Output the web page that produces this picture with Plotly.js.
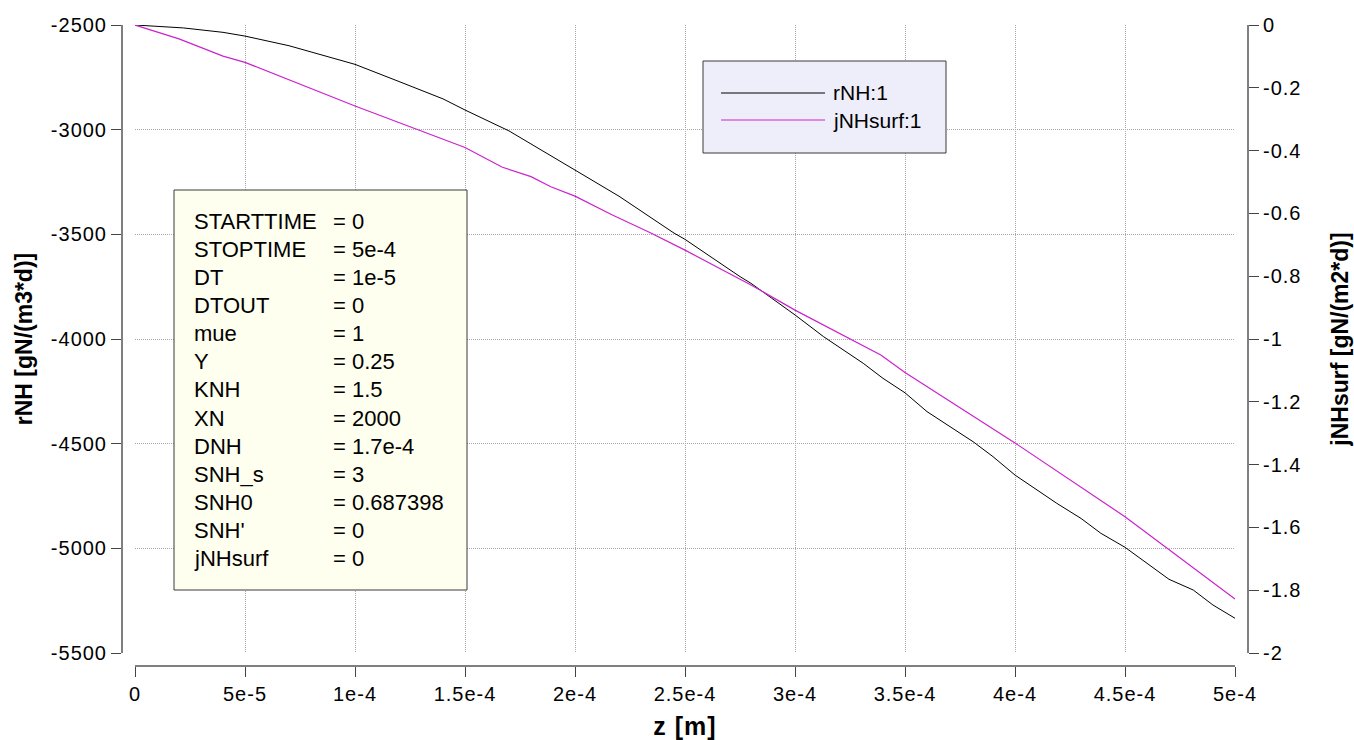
<!DOCTYPE html>
<html>
<head>
<meta charset="utf-8">
<script src="https://cdn.plot.ly/plotly-3.0.1.min.js"></script>
<style>
  html, body { margin: 0; padding: 0; background: #fff; }
  #chart { width: 1354px; height: 740px; }
  #chart .xtick text, #chart .ytick text, #chart .y2tick text, #chart .xtitle { letter-spacing: 1px; }
</style>
</head>
<body>
<div id="chart"></div>
<script>
// Depth profile of the ammonium reaction rate (left axis) and surface flux (right axis)
const zRNH = [0, 2.2e-5, 4e-5, 5e-5, 7e-5, 1e-4, 1.2e-4, 1.4e-4, 1.5e-4, 1.7e-4, 2e-4, 2.2e-4,
              2.45e-4, 2.5e-4, 2.75e-4, 2.8e-4, 3e-4, 3.13e-4, 3.31e-4, 3.4e-4, 3.5e-4, 3.6e-4,
              3.81e-4, 3.9e-4, 4e-4, 4.19e-4, 4.3e-4, 4.39e-4, 4.5e-4, 4.7e-4, 4.81e-4, 4.9e-4, 5e-4];
const rNH = [-2500, -2514, -2535, -2553, -2599, -2688, -2770, -2853, -2906, -3006, -3193, -3318,
             -3494, -3524, -3702, -3734, -3885, -3989, -4116, -4188, -4257, -4347,
             -4491, -4562, -4650, -4785, -4857, -4928, -4995, -5148, -5199, -5271, -5334];

const zJNH = [0, 2e-5, 4e-5, 5e-5, 1e-4, 1.5e-4, 1.67e-4, 1.8e-4, 1.89e-4, 2e-4, 2.17e-4, 2.34e-4,
              2.5e-4, 2.8e-4, 3e-4, 3.1e-4, 3.25e-4, 3.39e-4, 3.5e-4, 3.66e-4, 3.9e-4, 4e-4, 4.5e-4, 5e-4];
const jNHsurf = [0, -0.044, -0.099, -0.119, -0.258, -0.390, -0.453, -0.483, -0.515, -0.545, -0.605, -0.661,
                 -0.717, -0.828, -0.908, -0.945, -0.998, -1.051, -1.107, -1.178, -1.284, -1.331, -1.566, -1.828];

// Tick labels
const xTickVals = [0, 5e-5, 1e-4, 1.5e-4, 2e-4, 2.5e-4, 3e-4, 3.5e-4, 4e-4, 4.5e-4, 5e-4];
const xTickText = ['0', '5e-5', '1e-4', '1.5e-4', '2e-4', '2.5e-4', '3e-4', '3.5e-4', '4e-4', '4.5e-4', '5e-4'];
const yTickVals = [-2500, -3000, -3500, -4000, -4500, -5000, -5500];
const yTickText = ['-2500', '-3000', '-3500', '-4000', '-4500', '-5000', '-5500'];
const y2TickVals = [0, -0.2, -0.4, -0.6, -0.8, -1, -1.2, -1.4, -1.6, -1.8, -2];
const y2TickText = ['0', '-0.2', '-0.4', '-0.6', '-0.8', '-1', '-1.2', '-1.4', '-1.6', '-1.8', '-2'];

// Simulation parameters listed in the info box
const paramNames = ['STARTTIME', 'STOPTIME', 'DT', 'DTOUT', 'mue', 'Y', 'KNH', 'XN', 'DNH',
                    'SNH_s', 'SNH0', "SNH'", 'jNHsurf'];
const paramValues = ['0', '5e-4', '1e-5', '0', '1', '0.25', '1.5', '2000', '1.7e-4',
                     '3', '0.687398', '0', '0'];

// Series legend
const seriesNames = ['rNH:1', 'jNHsurf:1'];
const seriesColors = ['#000000', '#cc22cc'];

const W = 1354, H = 740;
const px = v => v / W;          // horizontal pixel -> paper
const py = v => 1 - v / H;      // vertical pixel -> paper

const FONT = 'Arial, "Liberation Sans", sans-serif';

const traces = [
  { x: zRNH, y: rNH, type: 'scatter', mode: 'lines', name: seriesNames[0],
    line: { color: seriesColors[0], width: 1 }, xaxis: 'x', yaxis: 'y', showlegend: false },
  { x: zJNH, y: jNHsurf, type: 'scatter', mode: 'lines', name: seriesNames[1],
    line: { color: seriesColors[1], width: 1.2 }, xaxis: 'x', yaxis: 'y2', showlegend: false }
];

const shapes = [];
const annotations = [];

// Parameter box
shapes.push({ type: 'rect', xref: 'paper', yref: 'paper',
  x0: px(174), x1: px(467), y0: py(590), y1: py(190),
  fillcolor: '#ffffef', line: { color: '#3a3a3a', width: 1 }, layer: 'above' });
paramNames.forEach((n, i) => {
  const yc = py(221.7 + i * 28.05);
  annotations.push({ xref: 'paper', yref: 'paper', x: px(192), y: yc, xanchor: 'left', yanchor: 'middle',
    text: n, showarrow: false, font: { family: FONT, size: 22, color: '#000' } });
  annotations.push({ xref: 'paper', yref: 'paper', x: px(331), y: yc, xanchor: 'left', yanchor: 'middle',
    text: '= ' + paramValues[i], showarrow: false, font: { family: FONT, size: 22, color: '#000' } });
});

// Legend box
shapes.push({ type: 'rect', xref: 'paper', yref: 'paper',
  x0: px(703), x1: px(946), y0: py(153), y1: py(61),
  fillcolor: '#eeeefb', line: { color: '#3a3a3a', width: 1 }, layer: 'above' });
seriesNames.forEach((n, i) => {
  const yy = 93 + i * 27;
  shapes.push({ type: 'line', xref: 'paper', yref: 'paper',
    x0: px(721), x1: px(825), y0: py(yy), y1: py(yy),
    line: { color: seriesColors[i], width: i === 0 ? 1 : 1.2 }, layer: 'above' });
  annotations.push({ xref: 'paper', yref: 'paper', x: px(831), y: py(yy), xanchor: 'left', yanchor: 'middle',
    text: n, showarrow: false, font: { family: FONT, size: 21, color: '#000' } });
});

const axisCommon = {
  showline: true, linecolor: '#7f7f7f', linewidth: 2,
  ticks: 'outside', ticklen: 10, tickwidth: 1, tickcolor: '#444',
  tickfont: { family: FONT, size: 20, color: '#000' },
  zeroline: false, fixedrange: true
};

const layout = {
  width: W, height: H,
  margin: { l: 0, r: 0, t: 0, b: 0, pad: 0 },
  paper_bgcolor: '#ffffff', plot_bgcolor: '#ffffff',
  font: { family: FONT, size: 20, color: '#000' },
  showlegend: false,
  xaxis: Object.assign({}, axisCommon, {
    domain: [px(135), px(1235)], range: [0, 5e-4],
    anchor: 'free', position: 74 / H,
    tickmode: 'array', tickvals: xTickVals, ticktext: xTickText,
    showgrid: true, gridcolor: '#a8a8a8', gridwidth: 1, griddash: '1px,1px',
    title: { text: '<b>z [m]</b>', font: { family: FONT, size: 25, color: '#000' }, standoff: 14 }
  }),
  yaxis: Object.assign({}, axisCommon, {
    domain: [87 / H, 715 / H], range: [-5500, -2500],
    anchor: 'free', position: px(122),
    tickmode: 'array', tickvals: yTickVals, ticktext: yTickText,
    showgrid: true, gridcolor: '#a8a8a8', gridwidth: 1, griddash: '1px,1px',
    title: { text: '<b>rNH [gN/(m3*d)]</b>', font: { family: FONT, size: 23, color: '#000' }, standoff: 16 }
  }),
  yaxis2: Object.assign({}, axisCommon, {
    domain: [87 / H, 715 / H], range: [-2, 0],
    overlaying: 'y', side: 'right',
    anchor: 'free', position: px(1248),
    tickmode: 'array', tickvals: y2TickVals, ticktext: y2TickText,
    showgrid: false,
    title: { text: '<b>jNHsurf [gN/(m2*d)]</b>', font: { family: FONT, size: 23, color: '#000' }, standoff: 34 }
  }),
  shapes: shapes,
  annotations: annotations
};

Plotly.newPlot('chart', traces, layout, { staticPlot: true, displayModeBar: false });
</script>
</body>
</html>
